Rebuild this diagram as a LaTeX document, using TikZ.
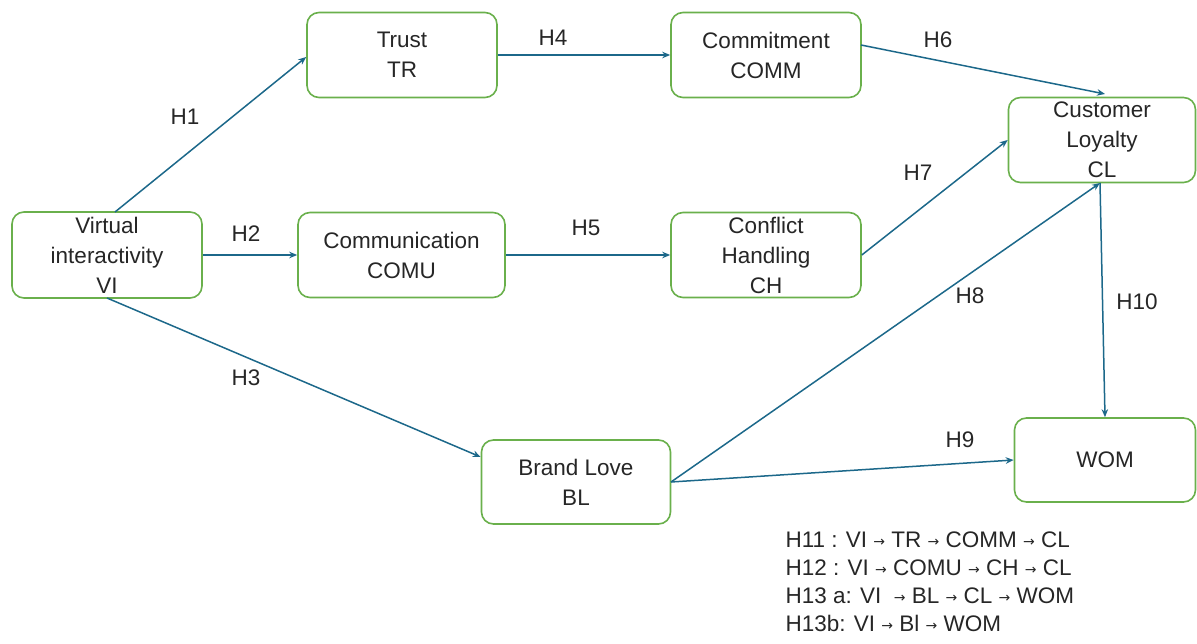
\documentclass[tikz,border=0pt]{standalone}
\usepackage{fontspec}
\setmainfont{Liberation Sans}
\newfontfamily\arrowfont{DejaVu Sans}
\usetikzlibrary{arrows.meta}
\definecolor{boxgreen}{RGB}{106,176,76}
\definecolor{arrowteal}{RGB}{28,104,138}
\begin{document}
\begin{tikzpicture}[x=1pt,y=-1pt,
  box/.style={draw=boxgreen,line width=1.6pt,rounded corners=12pt,fill=white,align=center,
    font=\fontsize{22.5}{30}\selectfont,inner sep=0pt,text=black!85},
  conn/.style={draw=arrowteal,line width=1.5pt,-{Stealth[length=8pt,width=6.5pt]}},
  lab/.style={font=\fontsize{22.5}{25}\selectfont,text=black!85},
  leg/.style={font=\fontsize{22.5}{28}\selectfont,text=black!85,align=left,anchor=north west}]
\useasboundingbox (0,0) rectangle (1197,644);
\node[box,minimum width=190pt,minimum height=86pt] (VI) at (107,255) {Virtual\\interactivity\\VI};
\node[box,minimum width=190pt,minimum height=85pt] (TR) at (402,55) {Trust\\TR};
\node[box,minimum width=190pt,minimum height=85pt] (COMM) at (766,55) {Commitment\\COMM};
\node[box,minimum width=207pt,minimum height=85pt] (COMU) at (401.5,255) {Communication\\COMU};
\node[box,minimum width=190pt,minimum height=85pt] (CH) at (766,255) {Conflict\\Handling\\CH};
\node[box,minimum width=187pt,minimum height=85pt] (CL) at (1102,140) {Customer\\Loyalty\\CL};
\node[box,minimum width=189pt,minimum height=84pt] (BL) at (576,482) {Brand Love\\BL};
\node[box,minimum width=181pt,minimum height=84pt] (WOM) at (1105,460) {WOM};

\coordinate (VIt) at (115,212);
\coordinate (VIb) at (107,298);
\coordinate (COMMr) at (861,45);
\coordinate (CLt) at (1105,94);
\coordinate (CLb) at (1100,183);
\coordinate (BLr) at (671,482);

\draw[conn] (VIt) -- (TR.west |- 0,57) coordinate (TRl);
\draw[conn] (VI.east) -- (COMU.west);
\draw[conn] (VIb) -- (BL.west |- 0,457);
\draw[conn] (TR.east) -- (COMM.west);
\draw[conn] (COMU.east) -- (CH.west);
\draw[conn] (COMMr) -- (CLt);
\draw[conn] (CH.east) -- (CL.west);
\draw[conn] (BLr) -- (CLb);
\draw[conn] (BLr) -- (WOM.west);
\draw[conn] (CLb) -- (WOM.north);

\node[lab] (h1) at (185,117) {H1};
\node[lab] (h2) at (246,234) {H2};
\node[lab] (h3) at (246,378) {H3};
\node[lab] (h4) at (553,38) {H4};
\node[lab] (h5) at (586,228) {H5};
\node[lab] (h6) at (938,40) {H6};
\node[lab] (h7) at (918,173) {H7};
\node[lab] (h8) at (970,296) {H8};
\node[lab] (h9) at (960,440) {H9};
\node[lab] (h10) at (1137,302) {H10};

\newcommand{\sar}{{\arrowfont\fontsize{14}{14}\selectfont\raisebox{1pt}{→}}}
\node[leg] (legend) at (782,528) {H11 : VI \sar{} TR \sar{} COMM \sar{} CL\\
H12 : VI \sar{} COMU \sar{} CH \sar{} CL\\
H13 a: VI \ \sar{} BL \sar{} CL \sar{} WOM\\
H13b: VI \sar{} Bl \sar{} WOM};
\end{tikzpicture}
\end{document}
